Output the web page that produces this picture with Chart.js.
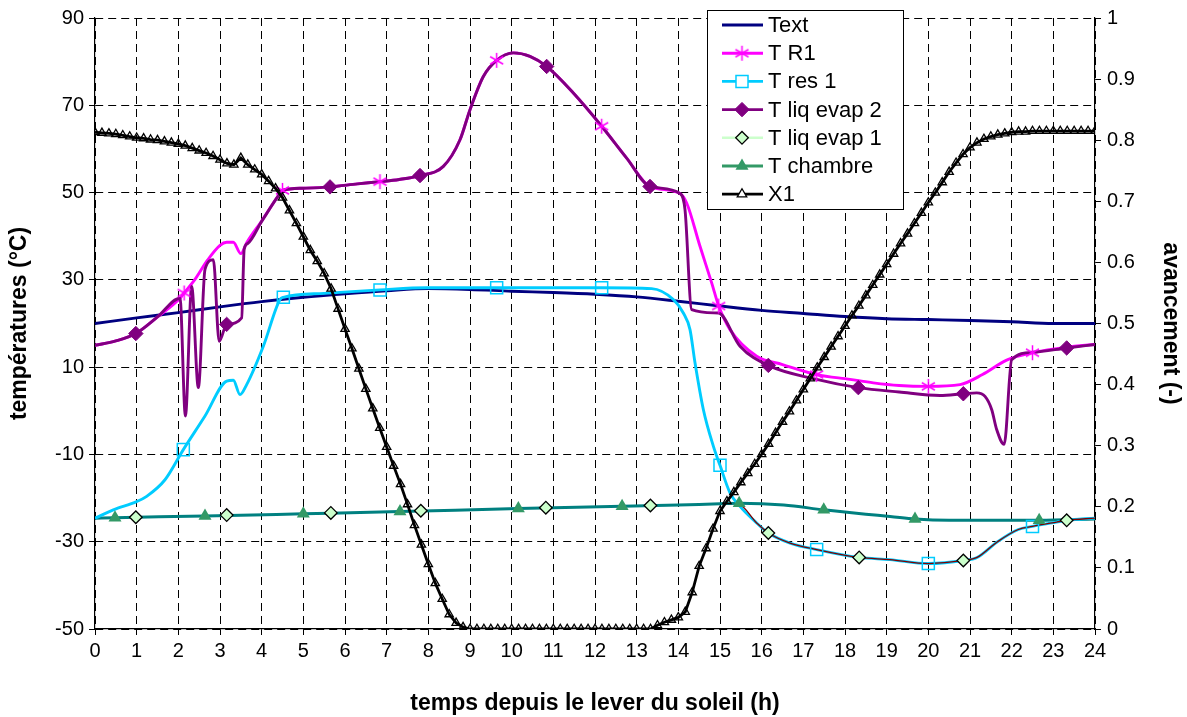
<!DOCTYPE html>
<html>
<head>
<meta charset="utf-8">
<script src="https://cdn.jsdelivr.net/npm/chart.js@4.4.0/dist/chart.umd.min.js"></script>
<style>
  html, body { margin: 0; padding: 0; background: #fff; }
</style>
</head>
<body>
<canvas id="chart" width="1187" height="717"></canvas>
<script>
// axis ticks
const hourTicks = [0, 1, 2, 3, 4, 5, 6, 7, 8, 9, 10, 11, 12, 13, 14, 15, 16, 17, 18, 19, 20, 21, 22, 23, 24];
const tempTicks = [-50, -30, -10, 10, 30, 50, 70, 90];
const progressTicks = [0, 0.1, 0.2, 0.3, 0.4, 0.5, 0.6, 0.7, 0.8, 0.9, 1];

// Text
const textHours = [0, 1, 2, 3, 4, 5, 6, 7, 8, 9, 10, 11, 12, 13, 14, 15, 16, 17, 18, 19, 20, 21, 22, 23, 24];
const textTemps = [20, 21.3, 22.5, 23.8, 25.0, 26.0, 26.8, 27.5, 28.0, 27.8, 27.4, 27.1, 26.7, 26.1, 25.1, 24.0, 23.0, 22.3, 21.6, 21.1, 20.9, 20.7, 20.4, 20.0, 20.0];

// T R1
const r1Hours = [0, 0.5, 0.98, 1.5, 2.04, 2.14, 2.4, 2.7, 3.0, 3.16, 3.32, 3.5, 3.64, 4.0, 4.44, 4.5, 5.0, 5.64, 6.3, 6.84, 7.3, 7.8, 8.36, 8.76, 9.0, 9.32, 9.64, 10.04, 10.44, 10.84, 11.48, 12.16, 12.76, 13.32, 14.04, 14.2, 14.52, 14.8, 14.97, 15.24, 15.88, 16.5, 17.32, 18.12, 18.68, 19.3, 20.0, 20.76, 21.3, 21.88, 22.5, 23.32, 24];
const r1Temps = [15.0, 16.0, 17.7, 21.5, 25.8, 27.0, 30.1, 34.5, 37.9, 38.6, 38.6, 36.0, 38.5, 43.5, 49.8, 50.5, 51.0, 51.3, 52.0, 52.5, 53.0, 53.9, 56.0, 62.1, 69.0, 76.6, 80.3, 82.0, 81.2, 78.9, 72.8, 65.2, 57.9, 51.4, 49.8, 47.6, 37.7, 29.3, 24.0, 18.6, 12.5, 10.6, 8.3, 7.2, 6.4, 5.8, 5.6, 6.0, 8.3, 11.6, 13.3, 14.6, 15.2];
const r1MarkHours = [2.14, 4.5, 6.84, 9.64, 12.16, 14.97, 17.32, 20.0, 22.5];
const r1MarkTemps = [27.0, 50.5, 52.5, 80.3, 65.2, 24.0, 8.3, 5.6, 13.3];

// T res 1
const res1Hours = [0, 0.44, 1.0, 1.24, 1.68, 2.12, 2.64, 3.16, 3.32, 3.48, 3.64, 4.04, 4.44, 4.52, 5.5, 6.84, 7.96, 9.64, 12.16, 13.36, 13.88, 14.12, 14.28, 14.4, 14.6, 14.84, 15.0, 15.24, 15.48, 15.88, 16.16, 16.68, 17.32, 18.34, 19.08, 20.0, 20.84, 21.17, 21.66, 22.16, 22.5, 23.08, 23.32, 24];
const res1Temps = [-24.6, -22.7, -20.8, -19.6, -15.8, -8.9, -1.2, 6.8, 7.0, 3.7, 6.0, 14.8, 25.5, 26.0, 26.9, 27.7, 28.2, 28.2, 28.2, 28.0, 25.5, 22.4, 18.6, 11.0, 0.3, -8.1, -12.5, -18.8, -21.9, -25.7, -28.0, -30.3, -31.8, -33.6, -34.1, -35.0, -34.3, -33.6, -30.0, -27.2, -26.5, -25.5, -25.1, -24.6];
const res1MarkHours = [2.12, 4.52, 6.84, 9.64, 12.16, 15.0, 17.32, 20.0, 22.5];
const res1MarkTemps = [-8.9, 26.0, 27.7, 28.2, 28.2, -12.5, -31.8, -35.0, -26.5];

// T liq evap 2
const ev2Hours = [0, 0.5, 0.98, 1.5, 2.04, 2.17, 2.32, 2.48, 2.64, 2.84, 2.98, 3.16, 3.52, 3.58, 3.66, 4.0, 4.44, 4.5, 5.0, 5.64, 6.3, 6.84, 7.3, 7.8, 8.36, 8.76, 9.0, 9.32, 9.64, 10.04, 10.44, 10.84, 11.48, 12.16, 12.76, 13.32, 14.04, 14.16, 14.32, 14.96, 15.48, 16.16, 17.32, 18.32, 19.3, 20.28, 20.84, 21.16, 21.36, 21.52, 21.64, 21.82, 22.0, 22.5, 23.32, 24];
const ev2Temps = [15.0, 16.0, 17.7, 21.5, 25.8, -1.2, 28.5, 5.3, 32.4, 34.6, 15.9, 19.8, 21.3, 37.0, 38.3, 43.4, 49.8, 50.5, 51.0, 51.3, 52.0, 52.5, 53.0, 53.9, 56.0, 62.1, 69.0, 76.6, 80.3, 82.0, 81.2, 78.9, 72.8, 65.2, 57.9, 51.4, 49.8, 46.1, 23.2, 22.4, 14.8, 10.4, 7.2, 5.3, 4.3, 3.5, 3.9, 4.1, 3.3, 0.3, -4.3, -7.7, 11.7, 13.4, 14.4, 15.2];
const ev2MarkHours = [0.98, 3.16, 5.64, 7.8, 10.84, 13.32, 16.16, 18.32, 20.84, 23.32];
const ev2MarkTemps = [17.7, 19.8, 51.3, 53.9, 78.9, 51.4, 10.4, 5.3, 3.9, 14.4];

// T liq evap 1
const ev1Hours = [0, 0.98, 3.16, 5.66, 7.82, 10.82, 13.33, 14.5, 15.45, 15.88, 16.16, 16.68, 17.32, 18.34, 19.08, 20.0, 20.84, 21.17, 21.66, 22.16, 22.5, 23.08, 23.32, 24];
const ev1Temps = [-24.6, -24.4, -23.9, -23.4, -22.9, -22.2, -21.7, -21.4, -21.5, -25.7, -28.0, -30.3, -31.8, -33.6, -34.1, -35.0, -34.3, -33.6, -30.0, -27.2, -26.5, -25.5, -25.1, -24.6];
const ev1MarkHours = [0.98, 3.16, 5.66, 7.82, 10.82, 13.33, 16.16, 18.34, 20.84, 23.32];
const ev1MarkTemps = [-24.4, -23.9, -23.4, -22.9, -22.2, -21.7, -28.0, -33.6, -34.3, -25.1];

// T chambre
const chHours = [0, 0.48, 2.64, 5.0, 7.32, 10.16, 12.65, 14.0, 15.0, 15.46, 16.53, 17.49, 18.5, 19.08, 19.68, 20.5, 22.66, 24];
const chTemps = [-24.6, -24.5, -24.1, -23.6, -23.1, -22.4, -21.9, -21.6, -21.3, -21.2, -21.6, -22.7, -23.7, -24.2, -24.8, -25.1, -25.1, -24.8];
const chMarkHours = [0.48, 2.64, 5.0, 7.32, 10.16, 12.65, 15.46, 17.49, 19.68, 22.66];
const chMarkTemps = [-24.5, -24.1, -23.6, -23.1, -22.4, -21.9, -21.2, -22.7, -24.8, -25.1];

// X1 (avancement), one value every 10 minutes
const x1PerHour = 6;
const x1Values = [
  0.813, 0.812, 0.811, 0.810, 0.808, 0.806,
  0.804, 0.803, 0.801, 0.800, 0.798, 0.796,
  0.794, 0.791, 0.787, 0.783, 0.779, 0.774,
  0.768, 0.762, 0.760, 0.771, 0.760, 0.752,
  0.744, 0.733, 0.721, 0.706, 0.685, 0.664,
  0.642, 0.620, 0.602, 0.582, 0.557, 0.524,
  0.491, 0.459, 0.426, 0.393, 0.361, 0.329,
  0.298, 0.267, 0.237, 0.204, 0.170, 0.138,
  0.106, 0.075, 0.049, 0.024, 0.010, 0.003,
  0, 0, 0, 0, 0, 0,
  0, 0, 0, 0, 0, 0,
  0, 0, 0, 0, 0, 0,
  0, 0, 0, 0, 0, 0,
  0, 0, 0, 0.006, 0.011, 0.015,
  0.019, 0.028, 0.060, 0.103, 0.132, 0.164,
  0.193, 0.209, 0.224, 0.240, 0.255, 0.270,
  0.286, 0.303, 0.321, 0.339, 0.356, 0.374,
  0.392, 0.410, 0.428, 0.445, 0.462, 0.479,
  0.496, 0.513, 0.529, 0.546, 0.563, 0.580,
  0.597, 0.614, 0.631, 0.647, 0.664, 0.681,
  0.698, 0.714, 0.731, 0.748, 0.763, 0.777,
  0.788, 0.796, 0.802, 0.806, 0.809, 0.811,
  0.813, 0.814, 0.814, 0.815, 0.815, 0.815,
  0.815, 0.815, 0.815, 0.815, 0.815, 0.815,
  0.815
];

const legendOrder = ['Text', 'T R1', 'T res 1', 'T liq evap 2', 'T liq evap 1', 'T chambre', 'X1'];

const FONT = "'Liberation Sans', Arial, sans-serif";
Chart.defaults.font.family = FONT;
Chart.defaults.color = '#000';

function pts(hours, values) {
    return hours.map((h, i) => ({ x: h, y: values[i] }));
}

// asterisk marker (vertical bar + X)
function asterisk(size, color) {
    const c = document.createElement('canvas');
    c.width = size; c.height = size;
    const g = c.getContext('2d');
    g.strokeStyle = color;
    g.lineWidth = 1.5;
    const m = size / 2, r = size / 2 - 1;
    g.beginPath();
    g.moveTo(m, m - r); g.lineTo(m, m + r);
    g.moveTo(m - r * 0.87, m - r * 0.5); g.lineTo(m + r * 0.87, m + r * 0.5);
    g.moveTo(m - r * 0.87, m + r * 0.5); g.lineTo(m + r * 0.87, m - r * 0.5);
    g.stroke();
    return c;
}
const starImg = asterisk(17, '#ff00ff');

function curve(label, hours, values, color, width, order, extra) {
    return Object.assign({
        label: label,
        data: pts(hours, values),
        borderColor: color,
        borderWidth: width,
        pointRadius: 0,
        fill: false,
        cubicInterpolationMode: 'monotone',
        yAxisID: 'y',
        order: order
    }, extra || {});
}

function marks(owner, hours, values, style, radius, fillColor, lineColor, bw) {
    return {
        markerOf: owner,
        data: pts(hours, values),
        showLine: false,
        pointStyle: style,
        pointRadius: radius,
        pointBackgroundColor: fillColor,
        pointBorderColor: lineColor,
        pointBorderWidth: bw,
        yAxisID: 'y',
        order: 1
    };
}

const datasets = [
    {
        label: 'X1',
        data: x1Values.map((v, i) => ({ x: i / x1PerHour, y: v })),
        yAxisID: 'y1',
        borderColor: '#000',
        borderWidth: 2.8,
        pointStyle: 'triangle',
        pointRadius: 4.8,
        pointBackgroundColor: 'rgba(255,255,255,0)',
        pointBorderColor: '#000',
        pointBorderWidth: 1.3,
        fill: false,
        order: 0
    },
    marks('T chambre', chMarkHours, chMarkTemps, 'triangle', 7.5, '#339966', '#339966', 0),
    marks('T liq evap 1', ev1MarkHours, ev1MarkTemps, 'rectRot', 6.3, '#ccffcc', '#000', 1.3),
    marks('T liq evap 2', ev2MarkHours, ev2MarkTemps, 'rectRot', 7.2, '#800080', '#800080', 1),
    marks('T res 1', res1MarkHours, res1MarkTemps, 'rect', 8.5, 'rgba(255,255,255,0)', '#00ccff', 1.5),
    marks('T R1', r1MarkHours, r1MarkTemps, starImg, 8, '#ff00ff', '#ff00ff', 1.5),
    curve('T liq evap 1', ev1Hours, ev1Temps, '#800000', 1.3, 2, {
        legendLine: '#ccffcc',
        segment: { borderColor: c => c.p0.parsed.x < 15.4 ? 'rgba(0,0,0,0)' : '#800000' }
    }),
    curve('T liq evap 2', ev2Hours, ev2Temps, '#800080', 2.9, 3),
    curve('T R1', r1Hours, r1Temps, '#ff00ff', 2.9, 4),
    curve('T res 1', res1Hours, res1Temps, '#00ccff', 2.9, 5),
    curve('T chambre', chHours, chTemps, '#008080', 3, 6, { legendLine: '#339966' }),
    curve('Text', textHours, textTemps, '#000080', 2.9, 7)
];

// legend drawn as a framed box inside the plot, like the original
const boxLegend = {
    id: 'boxLegend',
    afterDraw(chart) {
        const ctx = chart.ctx;
        const left = 707, top = 10, w = 196, h = 199, rowH = 28.2;
        ctx.save();
        ctx.fillStyle = '#fff';
        ctx.fillRect(left, top, w, h);
        ctx.strokeStyle = '#000';
        ctx.lineWidth = 1;
        ctx.strokeRect(left + 0.5, top + 0.5, w, h);
        ctx.font = '22px ' + FONT;
        ctx.textBaseline = 'middle';
        legendOrder.forEach((name, i) => {
            const ds = chart.data.datasets.find(d => d.label === name);
            const mk = chart.data.datasets.find(d => d.markerOf === name) || (ds.pointRadius ? ds : null);
            const y = top + 15 + i * rowH;
            ctx.strokeStyle = ds.legendLine || ds.borderColor;
            ctx.lineWidth = name === 'T liq evap 1' ? 2.5 : ds.borderWidth;
            ctx.beginPath();
            ctx.moveTo(722, y);
            ctx.lineTo(763, y);
            ctx.stroke();
            if (mk) {
                const hollow = /rgba\(255,255,255,0\)/.test(mk.pointBackgroundColor);
                ctx.fillStyle = hollow ? '#fff' : mk.pointBackgroundColor;
                ctx.strokeStyle = mk.pointBorderColor;
                ctx.lineWidth = mk.pointBorderWidth;
                Chart.helpers.drawPoint(ctx, {
                    pointStyle: mk.pointStyle,
                    radius: name === 'X1' ? 5.5 : mk.pointRadius,
                    rotation: 0,
                    borderWidth: mk.pointBorderWidth
                }, 742, y);
            }
            ctx.fillStyle = '#000';
            ctx.fillText(name, 768, y + 1);
        });
        ctx.restore();
    }
};

const gridDash = [8, 5];

new Chart(document.getElementById('chart'), {
    type: 'line',
    data: { datasets: datasets },
    options: {
        responsive: false,
        animation: false,
        events: [],
        layout: { padding: { top: 18, left: 0, right: 0, bottom: 0 } },
        plugins: {
            legend: { display: false },
            tooltip: { enabled: false }
        },
        scales: {
            x: {
                type: 'linear',
                min: 0,
                max: 24,
                afterBuildTicks: s => { s.ticks = hourTicks.map(v => ({ value: v })); },
                afterFit: s => { s.height = 88; },
                ticks: { font: { size: 20 }, color: '#000', padding: 4, maxRotation: 0, autoSkip: false },
                grid: { color: '#000', lineWidth: 1, tickLength: 6, tickColor: '#000', tickWidth: 1 },
                border: { display: true, color: '#000', width: 1.2, dash: gridDash },
                title: {
                    display: true,
                    text: 'temps depuis le lever du soleil (h)',
                    font: { size: 23, weight: 'bold' },
                    color: '#000',
                    padding: { top: 0, bottom: 0 }
                }
            },
            y: {
                type: 'linear',
                position: 'left',
                min: -50,
                max: 90,
                afterBuildTicks: s => { s.ticks = tempTicks.map(v => ({ value: v })); },
                afterFit: s => { s.width = 95; },
                ticks: { font: { size: 20 }, color: '#000', padding: 5, callback: v => String(v) },
                grid: { color: '#000', lineWidth: 1, tickLength: 6, tickColor: '#000', tickWidth: 1 },
                border: { display: true, color: '#000', width: 1.2, dash: gridDash },
                title: {
                    display: true,
                    text: 'températures (°C)',
                    font: { size: 23, weight: 'bold' },
                    color: '#000',
                    padding: { top: 6, bottom: 0 }
                }
            },
            y1: {
                type: 'linear',
                position: 'right',
                min: 0,
                max: 1,
                afterBuildTicks: s => { s.ticks = progressTicks.map(v => ({ value: v })); },
                afterFit: s => { s.width = 92; },
                ticks: { font: { size: 20 }, color: '#000', padding: 6, callback: v => String(v) },
                grid: { drawOnChartArea: false, tickLength: 6, tickColor: '#000', tickWidth: 1 },
                border: { display: true, color: '#000', width: 1.2 },
                title: {
                    display: true,
                    text: 'avancement (-)',
                    font: { size: 23, weight: 'bold' },
                    color: '#000',
                    padding: { top: 3, bottom: 0 }
                }
            }
        }
    },
    plugins: [boxLegend]
});
</script>
</body>
</html>
